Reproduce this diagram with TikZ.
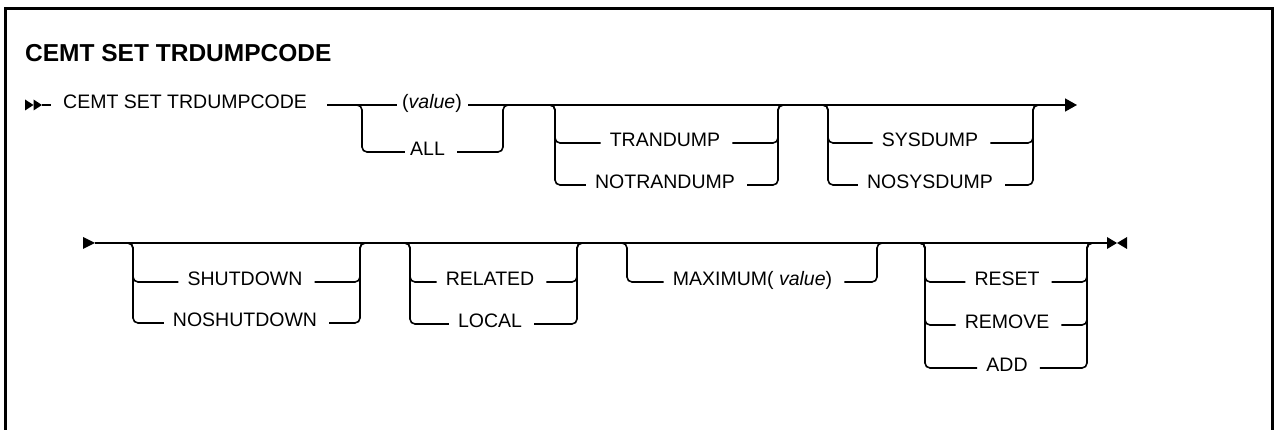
\documentclass[tikz,border=0pt]{standalone}
\usepackage{fontspec}
\setmainfont{Liberation Sans}
\usetikzlibrary{arrows.meta}

\begin{document}
\begin{tikzpicture}[x=1pt,y=-1pt,
  rail/.style={line width=1.6pt,rounded corners=5pt},
  opt/.style={inner sep=0pt,text height=0.69em,text depth=0pt,font=\fontsize{19.5}{22}\selectfont}]
\useasboundingbox (0,0) rectangle (1274,430);
% frame, open at the bottom
\draw[line width=2.4pt] (5.5,430) -- (5.5,8.5) -- (1272.5,8.5) -- (1272.5,430);
\node[anchor=west,inner sep=0pt,text height=0.69em,text depth=0pt,font=\bfseries\fontsize{24.5}{28}\selectfont] (title) at (25,58.5) {CEMT SET TRDUMPCODE};

% first line
\fill (25,99.5) -- (33.5,105) -- (25,110.5) -- cycle;
\fill (33.5,99.5) -- (42,105) -- (33.5,110.5) -- cycle;
\coordinate (start) at (42,105);
\draw[rail] (start) -- ++(9,0);
\node[opt,anchor=west] (cmd) at (63,105) {CEMT SET TRDUMPCODE};
\node[opt] (value) at (432,105) {(\textit{value})};
\node[opt] (all) at (427.5,152) {ALL};
\draw[rail] ([xshift=20pt]cmd.east) -- ([xshift=-5pt]value.west);
\draw[rail] (354,105) -- (362,105) -- (362,152) -- ([xshift=-5pt]all.west);
\draw[rail] ([xshift=12pt]all.east) -- (503,152) -- (503,105) -- (511,105);
\draw[rail,-{Triangle[length=12pt,width=13pt]}] ([xshift=6pt]value.east) -- (1077,105);
\foreach \nm/\t/\y in {tran/TRANDUMP/143,notran/NOTRANDUMP/185}{
  \node[opt] (\nm) at (665,\y) {\t};
  \draw[rail] (547,105) -- (555,105) -- (555,\y) -- ([xshift=-9pt]\nm.west);
  \draw[rail] ([xshift=12pt]\nm.east) -- (778,\y) -- (778,105) -- (786,105);
}
\foreach \nm/\t/\y in {sys/SYSDUMP/143,nosys/NOSYSDUMP/185}{
  \node[opt] (\nm) at (930,\y) {\t};
  \draw[rail] (820,105) -- (828,105) -- (828,\y) -- ([xshift=-9pt]\nm.west);
  \draw[rail] ([xshift=12pt]\nm.east) -- (1033,\y) -- (1033,105) -- (1041,105);
}

% second line
\fill (83,237) -- (95,243) -- (83,249) -- cycle;
\coordinate (cont) at (95,243);
\coordinate (stop) at (1107,243);
\draw[rail] (cont) -- (stop);
\fill (1107,237) -- (1117,243) -- (1107,249) -- cycle;
\fill (1127,237) -- (1117,243) -- (1127,249) -- cycle;
\foreach \nm/\t/\y in {shut/SHUTDOWN/282,noshut/NOSHUTDOWN/323}{
  \node[opt] (\nm) at (245,\y) {\t};
  \draw[rail] (125,243) -- (133,243) -- (133,\y) -- ([xshift=-9pt]\nm.west);
  \draw[rail] ([xshift=12pt]\nm.east) -- (360,\y) -- (360,243) -- (368,243);
}
\foreach \nm/\t/\y in {rel/RELATED/282,loc/LOCAL/324}{
  \node[opt] (\nm) at (490,\y) {\t};
  \draw[rail] (402,243) -- (410,243) -- (410,\y) -- ([xshift=-9pt]\nm.west);
  \draw[rail] ([xshift=12pt]\nm.east) -- (577,\y) -- (577,243) -- (585,243);
}
\node[opt] (max) at (752.5,282) {MAXIMUM( \textit{value})};
\draw[rail] (619,243) -- (627,243) -- (627,282) -- ([xshift=-9pt]max.west);
\draw[rail] ([xshift=12pt]max.east) -- (877,282) -- (877,243) -- (885,243);
\foreach \nm/\t/\y in {reset/RESET/282,remove/REMOVE/325,add/ADD/368}{
  \node[opt] (\nm) at (1007,\y) {\t};
  \draw[rail] (917,243) -- (925,243) -- (925,\y) -- ([xshift=-9pt]\nm.west);
  \draw[rail] ([xshift=12pt]\nm.east) -- (1087,\y) -- (1087,243) -- (1095,243);
}
\end{tikzpicture}
\end{document}
